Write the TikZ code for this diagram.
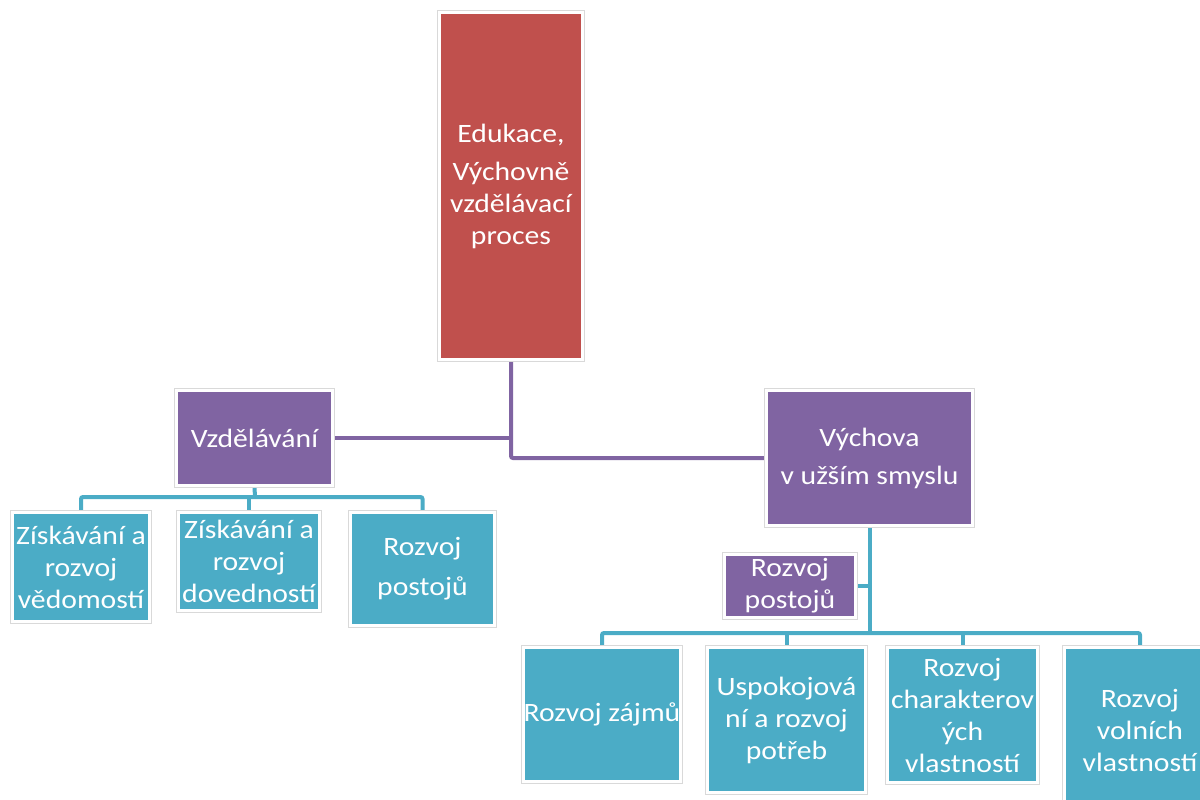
\documentclass[tikz,border=0pt]{standalone}
\usepackage{fontspec}
\setmainfont{Carlito}[FakeStretch=1.12]
\usetikzlibrary{backgrounds}
\definecolor{edured}{HTML}{C0504D}
\definecolor{edupurple}{HTML}{8064A2}
\definecolor{edublue}{HTML}{4BACC6}
\tikzset{
	box/.style={draw=white, line width=3pt, preaction={draw=black!15, line width=5pt},
		text=white, align=center, inner sep=0pt, font=\fontsize{26.5}{32}\selectfont},
	redbox/.style={box, fill=edured},
	purplebox/.style={box, fill=edupurple},
	bluebox/.style={box, fill=edublue},
	purpleline/.style={draw=edupurple, line width=4pt, rounded corners=2pt},
	blueline/.style={draw=edublue, line width=4pt, rounded corners=2pt}
}
\begin{document}
\begin{tikzpicture}[x=1pt,y=-1pt]
			\useasboundingbox (0,0) rectangle (1200,800);
			\node[redbox, minimum width=143pt, minimum height=347pt] (edu) at (511,186) {Edukace,\\[6pt]Výchovně\\vzdělávací\\proces};
			\node[purplebox, minimum width=156pt, minimum height=95pt] (vzd) at (254.5,438) {Vzdělávání};
			\node[purplebox, minimum width=206pt, minimum height=135pt] (vych) at (869.5,458) {Výchova\\[6pt]v užším smyslu};
			\node[bluebox, minimum width=137pt, minimum height=109pt] (ved) at (81,567) {Získávání a\\rozvoj\\vědomostí};
			\node[bluebox, minimum width=141pt, minimum height=98pt] (dov) at (249,561.5) {Získávání a\\rozvoj\\dovedností};
			\node[bluebox, minimum width=144pt, minimum height=113pt] (pos) at (422.5,569) {Rozvoj\\[8pt]postojů};
			\node[purplebox, minimum width=131pt, minimum height=63pt] (post) at (790,586) {Rozvoj\\postojů};
			\node[bluebox, minimum width=157pt, minimum height=134pt] (zaj) at (602,714.5) {Rozvoj zájmů};
			\node[bluebox, minimum width=158pt, minimum height=145pt] (pot) at (786.5,720) {Uspokojová\\ní a rozvoj\\potřeb};
			\node[bluebox, minimum width=150pt, minimum height=135pt] (cha) at (962.5,715) {Rozvoj\\charakterov\\ých\\vlastností};
			\node[bluebox, minimum width=151pt, minimum height=166pt] (vol) at (1140,730) {Rozvoj\\volních\\vlastností};
			\coordinate (vbus) at (255,497);
			\coordinate (bbus) at (869.5,633);
			\begin{scope}[on background layer]
				\draw[purpleline] (edu.south) |- (vych.west);
				\draw[purpleline] (vzd.east) -- (vzd.east -| edu.south);
				\draw[blueline] (ved.north) |- (vbus) -| (pos.north);
				\draw[blueline] (vzd.south) -- (vbus);
				\draw[blueline] (dov.north) -- (dov.north |- vbus);
				\draw[blueline] (zaj.north) |- (bbus) -| (vol.north);
				\draw[blueline] (vych.south) -- (bbus);
				\foreach \n in {pot,cha}
					\draw[blueline] (\n.north) -- (\n.north |- bbus);
				\draw[blueline] (post.east) -- (post.east -| vych.south);
			\end{scope}
		\end{tikzpicture}
\end{document}
